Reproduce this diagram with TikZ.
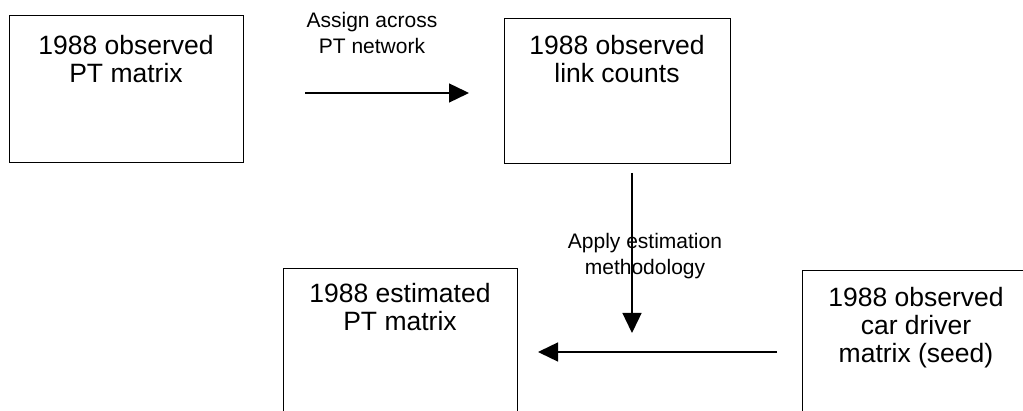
\documentclass[tikz,border=0pt]{standalone}
\usepackage{fontspec}
\setmainfont{Liberation Sans}
\usetikzlibrary{arrows.meta}
\begin{document}
\begin{tikzpicture}[x=1pt,y=-1pt,
  boxshape/.style={draw=black,line width=1.4pt,rectangle,inner sep=0pt,anchor=north west},
  boxtext/.style={inner sep=0pt,anchor=north,align=center,font=\fontsize{26.5}{28}\selectfont},
  lbltext/.style={inner sep=0pt,anchor=north,align=center,font=\fontsize{21}{26}\selectfont},
  flow/.style={line width=1.4pt,-{Triangle[length=20pt,width=19pt]}}]
\useasboundingbox (0,0) rectangle (1023,411);
\clip (0,0) rectangle (1023,411);
% boxes
\node[boxshape,minimum width=234pt,minimum height=147pt] (b1) at (9,15) {};
\node[boxshape,minimum width=226pt,minimum height=145pt] (b2) at (504,18) {};
\node[boxshape,minimum width=234pt,minimum height=170pt] (b3) at (283,268) {};
\node[boxshape,minimum width=240pt,minimum height=170pt] (b4) at (802,270) {};
% box texts
\node[boxtext] (t1) at (126,35) {1988 observed\\PT matrix};
\node[boxtext] (t2) at (617,35) {1988 observed\\link counts};
\node[boxtext] (t3) at (400,283) {1988 estimated\\PT matrix};
\node[boxtext] (t4) at (916,287) {1988 observed\\car driver\\matrix (seed)};
% arrow end points
\coordinate (a1s) at (305,93);
\coordinate (a1e) at (469,93);
\coordinate (a2s) at (632,173);
\coordinate (a2e) at (632,333);
\coordinate (a3s) at (777,352);
\coordinate (a3e) at (538,352);
\draw[flow] (a1s) -- (a1e);
\draw[flow] (a2s) -- (a2e);
\draw[flow] (a3s) -- (a3e);
% labels
\node[lbltext] (l1) at (372,12) {Assign across\\PT network};
\node[lbltext] (l2) at (645,233) {Apply estimation\\methodology};
\end{tikzpicture}
\end{document}
